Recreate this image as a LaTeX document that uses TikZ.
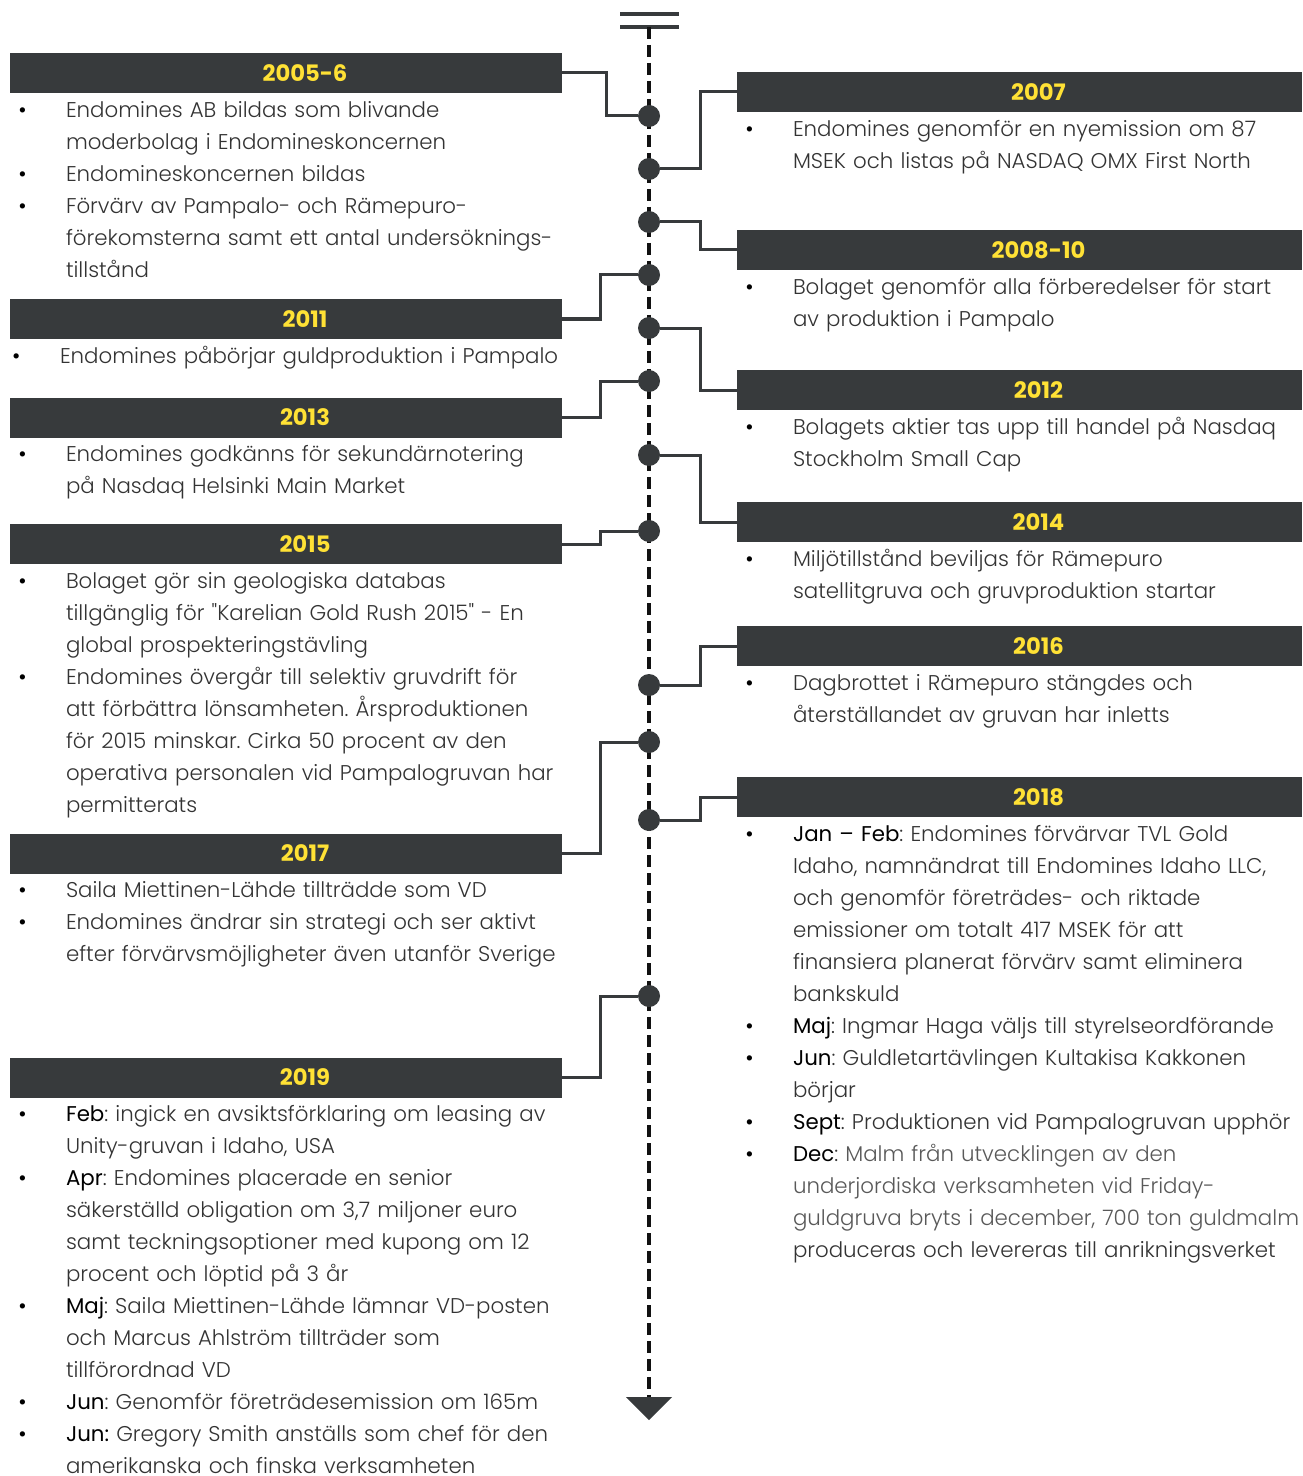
\documentclass[tikz,border=0pt]{standalone}
\usepackage{fontspec}
\setmainfont{Poppins Light}[Ligatures=TeXOff]
\newfontfamily\yearfont{Poppins Bold}
\newfontfamily\monthfont{Poppins}[Ligatures=TeXOff]
\usetikzlibrary{positioning}
\definecolor{Banner}{HTML}{373A3C}
\definecolor{Gold}{HTML}{FFE135}
\definecolor{Body}{HTML}{333333}
\definecolor{Faint}{HTML}{595959}
\definecolor{Axis}{HTML}{111111}
\newcommand\bul{\strut\makebox[36pt][l]{\monthfont\color{black}\textbullet}}
\newcommand\ind{\hspace*{36pt}}
\newcommand\mon[1]{{\monthfont\color{black}#1}}
\tikzset{
  year/.style={fill=Banner, minimum height=30pt, inner sep=0pt, text=Gold,
    font=\yearfont\fontsize{17}{20}\selectfont,
    execute at begin node=\hspace*{28.5pt}},
  leftyear/.style={year, minimum width=414pt},
  rightyear/.style={year, minimum width=423.75pt},
  events/.style={anchor=north west, inner sep=0pt, text width=440pt, align=left,
    text=Body, font=\fontsize{16}{24}\selectfont\frenchspacing},
  event dot/.style={circle, fill=Banner, minimum size=16.5pt, inner sep=0pt},
  link/.style={draw=Banner, line width=2.25pt},
  timeline/.style={draw=Axis, line width=3pt, dash pattern=on 9pt off 4.5pt},
}
\begin{document}
\begin{tikzpicture}[x=0.75pt, y=-0.75pt]
  \useasboundingbox (0,0) rectangle (1302,1476);

  % Axis: double bar on top, dashed spine, arrow head at the bottom.
  \coordinate (axtop) at (649,27);
  \coordinate (axend) at (649,1397);
  \draw[Banner, line width=3pt] (620,14) -- (679,14);
  \draw[Banner, line width=3pt] (620,27) -- (679,27);
  \draw[timeline] (axtop) -- (axend);
  \fill[Banner] (axend) ++(-23,0) -- ++(46,0) -- ++(-23,23) -- cycle;

  % Event dots on the spine.
  \foreach \n/\y in {1/116,2/169,3/222,4/275,5/328,6/381,7/455,8/531,9/685,10/742,11/820,12/996}
    \node[event dot] (d\n) at (649,\y) {};

  % Year banners.
  \node[leftyear] (y2005) at (286,73) {2005-6};
  \node[rightyear] (y2007) at (1019.5,92) {2007};
  \node[rightyear] (y2008) at (1019.5,250) {2008-10};
  \node[leftyear] (y2011) at (286,319) {2011};
  \node[rightyear] (y2012) at (1019.5,390) {2012};
  \node[leftyear] (y2013) at (286,417.5) {2013};
  \node[rightyear] (y2014) at (1019.5,522) {2014};
  \node[leftyear] (y2015) at (286,544) {2015};
  \node[rightyear] (y2016) at (1019.5,646) {2016};
  \node[leftyear] (y2017) at (286,853.5) {2017};
  \node[rightyear] (y2018) at (1019.5,797) {2018};
  \node[leftyear] (y2019) at (286,1077.5) {2019};

  % Event texts below each banner.
  \node[events] (t2005) at ([xshift=6pt,yshift=-1pt]y2005.south west)
    {\bul Endomines AB bildas som blivande\\
     \ind moderbolag i Endomineskoncernen\\
     \bul Endomineskoncernen bildas\\
     \bul Förvärv av Pampalo- och Rämepuro-\\
     \ind förekomsterna samt ett antal undersöknings-\\
     \ind tillstånd};
  \node[events] (t2007) at ([xshift=6pt,yshift=-1pt]y2007.south west)
    {\bul Endomines genomför en nyemission om 87\\
     \ind MSEK och listas på NASDAQ OMX First North};
  \node[events] (t2008) at ([xshift=6pt,yshift=-1pt]y2008.south west)
    {\bul Bolaget genomför alla förberedelser för start\\
     \ind av produktion i Pampalo};
  \node[events] (t2011) at ([xshift=1.5pt,yshift=-1pt]y2011.south west)
    {\bul Endomines påbörjar guldproduktion i Pampalo};
  \node[events] (t2012) at ([xshift=6pt,yshift=-1pt]y2012.south west)
    {\bul Bolagets aktier tas upp till handel på Nasdaq\\
     \ind Stockholm Small Cap};
  \node[events] (t2013) at ([xshift=6pt,yshift=-1pt]y2013.south west)
    {\bul Endomines godkänns för sekundärnotering\\
     \ind på Nasdaq Helsinki Main Market};
  \node[events] (t2014) at ([xshift=6pt,yshift=-1pt]y2014.south west)
    {\bul Miljötillstånd beviljas för Rämepuro\\
     \ind satellitgruva och gruvproduktion startar};
  \node[events] (t2015) at ([xshift=6pt,yshift=-1pt]y2015.south west)
    {\bul Bolaget gör sin geologiska databas\\
     \ind tillgänglig för "Karelian Gold Rush 2015" - En\\
     \ind global prospekteringstävling\\
     \bul Endomines övergår till selektiv gruvdrift för\\
     \ind att förbättra lönsamheten. Årsproduktionen\\
     \ind för 2015 minskar. Cirka 50 procent av den\\
     \ind operativa personalen vid Pampalogruvan har\\
     \ind permitterats};
  \node[events] (t2016) at ([xshift=6pt,yshift=-1pt]y2016.south west)
    {\bul Dagbrottet i Rämepuro stängdes och\\
     \ind återställandet av gruvan har inletts};
  \node[events] (t2017) at ([xshift=6pt,yshift=-1pt]y2017.south west)
    {\bul Saila Miettinen-Lähde tillträdde som VD\\
     \bul Endomines ändrar sin strategi och ser aktivt\\
     \ind efter förvärvsmöjligheter även utanför Sverige};
  \node[events] (t2018) at ([xshift=6pt,yshift=-1pt]y2018.south west)
    {\bul \mon{Jan – Feb}: Endomines förvärvar TVL Gold\\
     \ind Idaho, namnändrat till Endomines Idaho LLC,\\
     \ind och genomför företrädes- och riktade\\
     \ind emissioner om totalt 417 MSEK för att\\
     \ind finansiera planerat förvärv samt eliminera\\
     \ind bankskuld\\
     \bul \mon{Maj}: Ingmar Haga väljs till styrelseordförande\\
     \bul \mon{Jun}: Guldletartävlingen Kultakisa Kakkonen\\
     \ind börjar\\
     \bul \mon{Sept}: Produktionen vid Pampalogruvan upphör\\
     \bul \mon{Dec}: {\color{Faint}Malm från utvecklingen av den}\\
     \ind {\color{Faint}underjordiska verksamheten vid Friday-}\\
     \ind {\color{Faint}guldgruva bryts i december, 700 ton guldmalm}\\
     \ind produceras och levereras till anrikningsverket};
  \node[events] (t2019) at ([xshift=6pt,yshift=-1pt]y2019.south west)
    {\bul \mon{Feb}: ingick en avsiktsförklaring om leasing av\\
     \ind Unity-gruvan i Idaho, USA\\
     \bul \mon{Apr}: Endomines placerade en senior\\
     \ind säkerställd obligation om 3,7 miljoner euro\\
     \ind samt teckningsoptioner med kupong om 12\\
     \ind procent och löptid på 3 år\\
     \bul \mon{Maj}: Saila Miettinen-Lähde lämnar VD-posten\\
     \ind och Marcus Ahlström tillträder som\\
     \ind tillförordnad VD\\
     \bul \mon{Jun}: Genomför företrädesemission om 165m\\
     \bul \mon{Jun:} Gregory Smith anställs som chef för den\\
     \ind amerikanska och finska verksamheten};

  % Elbow connectors from banners to the spine.
  \draw[link] (y2005.east) -- ++(44,0) |- (d1);
  \draw[link] (d2) -- ++(51,0) |- (y2007.west);
  \draw[link] (d3) -- ++(51,0) |- (y2008.west);
  \draw[link] (y2011.east) -- ++(38,0) |- (d4);
  \draw[link] (d5) -- ++(51,0) |- (y2012.west);
  \draw[link] (y2013.east) -- ++(38,0) |- (d6);
  \draw[link] (d7) -- ++(51,0) |- (y2014.west);
  \draw[link] (y2015.east) -- ++(38,0) |- (d8);
  \draw[link] (d9) -- ++(51,0) |- (y2016.west);
  \draw[link] (y2017.east) -- ++(38,0) |- (d10);
  \draw[link] (d11) -- ++(51,0) |- (y2018.west);
  \draw[link] (y2019.east) -- ++(38,0) |- (d12);
\end{tikzpicture}
\end{document}
